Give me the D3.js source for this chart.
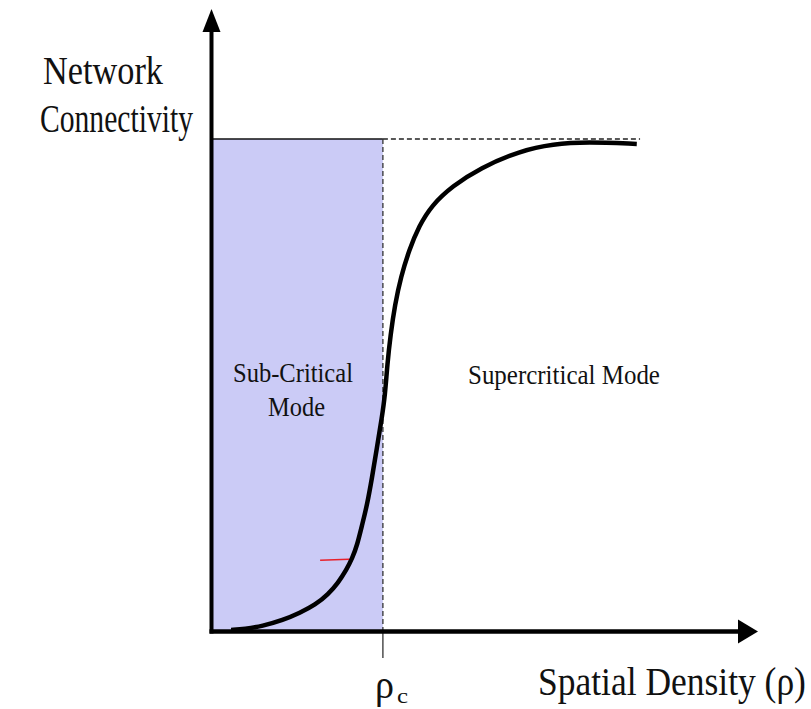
<!DOCTYPE html>
<html>
<head>
<meta charset="utf-8">
<script src="https://cdn.jsdelivr.net/npm/d3@7"></script>
<style>
  html, body { margin: 0; padding: 0; background: #fff; }
  svg { display: block; }
  text { font-family: "Liberation Serif", "Times New Roman", serif; fill: #111; }
</style>
</head>
<body>
<svg id="chart" width="811" height="709"></svg>
<script>
// ---- data (arbitrary units) ----
const densityValues = [0.35, 0.60, 0.92, 1.30, 1.61, 1.89, 2.13, 2.31, 2.46, 2.57, 2.66, 2.75, 2.84, 2.93, 3.02, 3.11, 3.17, 3.21, 3.27, 3.35, 3.46, 3.61, 3.79, 4.03, 4.40, 4.91, 5.64, 6.25, 6.87, 7.78];
const connectivityValues = [0.002, 0.004, 0.010, 0.022, 0.037, 0.053, 0.075, 0.098, 0.124, 0.148, 0.175, 0.216, 0.256, 0.311, 0.372, 0.433, 0.480, 0.541, 0.602, 0.663, 0.720, 0.774, 0.823, 0.866, 0.904, 0.941, 0.976, 0.990, 0.994, 0.990];
const criticalDensity = [3.13];
const saturationLevel = [1.0];
const saturationEnd = [7.84];
const axisMax = [10, 1.264];     // x arrow tip, y arrow tip
const redMark = [[1.98, 0.144], [2.51, 0.146]];
const axisTitles = ["Network", "Connectivity", "Spatial Density (ρ)"];
const regionLabels = ["Sub-Critical", "Mode", "Supercritical Mode"];
const criticalLabel = ["ρ", "c"];

const svg = d3.select("#chart");
const x = d3.scaleLinear().domain([0, 10]).range([212, 758]);
const y = d3.scaleLinear().domain([0, 1]).range([631, 139]);

const rc = criticalDensity[0];
const sat = saturationLevel[0];

// shaded sub-critical region
svg.append("rect")
  .attr("x", x(0)).attr("y", y(sat))
  .attr("width", x(rc) - x(0)).attr("height", y(0) - y(sat))
  .attr("fill", "#cbcbf6");

// top solid edge of region
svg.append("line")
  .attr("x1", x(0)).attr("x2", x(rc)).attr("y1", y(sat)).attr("y2", y(sat))
  .attr("stroke", "#111").attr("stroke-width", 1.5);
// dashed saturation line
svg.append("line")
  .attr("x1", x(rc)).attr("x2", x(saturationEnd[0])).attr("y1", y(sat)).attr("y2", y(sat))
  .attr("stroke", "#222").attr("stroke-width", 1.3).attr("stroke-dasharray", "5,3");
// dashed critical line
svg.append("line")
  .attr("x1", x(rc)).attr("x2", x(rc)).attr("y1", y(sat)).attr("y2", y(0))
  .attr("stroke", "#333").attr("stroke-width", 1.3).attr("stroke-dasharray", "5,3");
// tick below axis
svg.append("line")
  .attr("x1", x(rc)).attr("x2", x(rc)).attr("y1", y(0)).attr("y2", y(0) + 27)
  .attr("stroke", "#333").attr("stroke-width", 1.3);

// curve
const pts = densityValues.map((d, i) => [d, connectivityValues[i]]);
svg.append("path")
  .datum(pts)
  .attr("d", d3.line().x(d => x(d[0])).y(d => y(d[1])).curve(d3.curveBasis))
  .attr("fill", "none").attr("stroke", "#000").attr("stroke-width", 4.5);

// little red mark
svg.append("path")
  .datum(redMark)
  .attr("d", d3.line().x(d => x(d[0])).y(d => y(d[1])))
  .attr("stroke", "#e8202a").attr("stroke-width", 1.5).attr("fill", "none");

// axes
const x0 = x(0) - 0.5, y0 = y(0) + 0.5;
svg.append("line")
  .attr("x1", x0).attr("x2", x0).attr("y1", y0 + 2).attr("y2", y(axisMax[1]) + 20)
  .attr("stroke", "#000").attr("stroke-width", 4);
svg.append("path")
  .attr("d", `M${x0},${y(axisMax[1])} L${x0 - 9},${y(axisMax[1]) + 23} L${x0 + 9},${y(axisMax[1]) + 23} Z`)
  .attr("fill", "#000");
svg.append("line")
  .attr("x1", x0 - 2).attr("x2", x(axisMax[0]) - 18).attr("y1", y0).attr("y2", y0)
  .attr("stroke", "#000").attr("stroke-width", 4.5);
svg.append("path")
  .attr("d", `M${x(axisMax[0])},${y0} L${x(axisMax[0]) - 20},${y0 - 12} L${x(axisMax[0]) - 20},${y0 + 12} Z`)
  .attr("fill", "#000");

// text helper: horizontally condensed text fitted to a target width
function label(str, xx, yy, size, len) {
  const t = svg.append("text").attr("x", 0).attr("y", 0)
    .attr("font-size", size).text(str);
  const natural = t.node().getComputedTextLength();
  const sx = len ? len / natural : 1;
  t.attr("transform", `translate(${xx},${yy}) scale(${sx},1)`);
  return t;
}
label(axisTitles[0], 43, 84, 41, 120);
label(axisTitles[1], 40, 132, 40, 153);
label(axisTitles[2], 538, 695, 40, 268);
label(regionLabels[0], 233, 382, 28, 120);
label(regionLabels[1], 268, 416, 28, 57);
label(regionLabels[2], 468, 384, 28, 192);

// rho_c
label(criticalLabel[0], 375, 698, 40, 19);
label(criticalLabel[1], 397, 703, 22, 11);
</script>
</body>
</html>
